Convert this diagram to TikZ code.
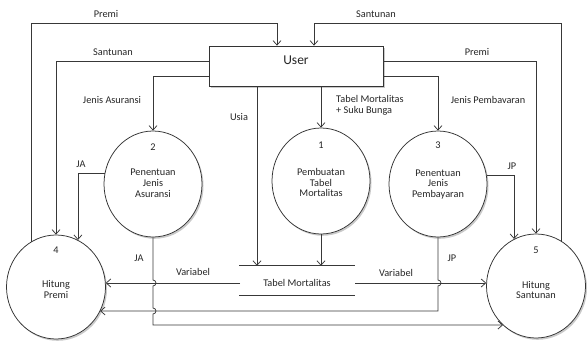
\documentclass[tikz,border=0pt]{standalone}
\usepackage{fontspec}
\setmainfont{Carlito}
\usetikzlibrary{arrows.meta,shapes.geometric,shadows}
\begin{document}
\begin{tikzpicture}[x=1pt,y=-1pt,
  line/.style={draw=black!78, line width=0.75pt},
  arr/.style={line, -{Straight Barb[length=4.5pt,width=8pt,line width=0.75pt]}},
  shd/.style={drop shadow={shadow xshift=1.5pt,shadow yshift=-1.8pt,opacity=0.35,fill=black!60}},
  proc/.style={ellipse, draw=black!80, line width=0.75pt, fill=white, minimum width=98pt, minimum height=106pt, inner sep=0pt, shd},
  procb/.style={proc, minimum width=99pt, minimum height=104pt},
  lbl/.style={font=\fontsize{10.3}{10.8}\selectfont, text=black!85, inner sep=0pt, align=center},
  ]
\useasboundingbox (0,0) rectangle (588,340);

% external entity
\node[draw=black!80, line width=0.75pt, fill=white, minimum width=174pt, minimum height=40pt, inner sep=0pt, shd] (user) at (296,66) {};
\node[font=\fontsize{13.5}{14}\selectfont, text=black!85, inner sep=0pt] (usertxt) at (296,60) {User};

% processes
\node[proc] (c1) at (321,181) {};
\node[proc] (c2) at (153,184) {};
\node[proc] (c3) at (438,184) {};
\node[procb] (c4) at (56,287) {};
\node[procb] (c5) at (536,286) {};

\node[lbl] (n1) at (321,145) {1};
\node[lbl] (t1) at (321,182.5) {Pembuatan\\Tabel\\Mortalitas};
\node[lbl] (n2) at (153,147) {2};
\node[lbl] (t2) at (153,183.5) {Penentuan\\Jenis\\Asuransi};
\node[lbl] (n3) at (438,145) {3};
\node[lbl] (t3) at (438,184.5) {Penentuan\\Jenis\\Pembayaran};
\node[lbl] (n4) at (56,250) {4};
\node[lbl] (t4) at (56,289.5) {Hitung\\Premi};
\node[lbl] (n5) at (536,250) {5};
\node[lbl] (t5) at (536,290) {Hitung\\Santunan};

% data store
\node[lbl, minimum width=115pt, minimum height=29pt] (ds) at (297,280.5) {};
\node[lbl] (dstxt) at (297,283) {Tabel Mortalitas};
\draw[line] (ds.north west) -- (ds.north east);
\draw[line] (ds.south west) -- (ds.south east);

% helper coordinates
\coordinate (k1) at (277,23);
\coordinate (k2) at (314,23);
\coordinate (xusia) at (257,0);
\coordinate (vl) at (240,283);
\coordinate (vr) at (355,283);

% flows from/to user
\draw[arr] (c4.119) |- (k1) -- (k1 |- user.north);
\draw[arr] ([yshift=5pt]user.west) -| (c4.north);
\draw[arr] ([yshift=-10pt]user.west) -| (c2.north);
\draw[arr] (xusia |- user.south) -- (xusia |- ds.north);
\draw[arr] (user.south -| c1.north) -- (c1.north);
\draw[arr] (c5.61) |- (k2) -- (k2 |- user.north);
\draw[arr] ([yshift=5pt]user.east) -| (c5.north);
\draw[arr] ([yshift=-10pt]user.east) -| (c3.north);

% internal flows
\draw[arr] (c2.168) -| (c4.65);
\draw[arr] (c3.10) -| (c5.115);
\draw[arr] (c1.south) -- (c1.south |- ds.north);
\draw[arr] (vl) -- (vl -| c4.5);
\draw[arr] (vr) -- (vr -| c5.176);
\draw[arr] (c2.south) -- (c2.south |- 0,280) arc[start angle=90,end angle=-90,radius=3pt]
  -- (c2.south |- 0,308) arc[start angle=90,end angle=-90,radius=3pt]
  -- (c2.south |- 0,325) -- (c5.230 |- 0,325);
\draw[arr] (c3.south) -- (c3.south |- 0,280) arc[start angle=90,end angle=-90,radius=3pt]
  -- (c3.south |- 0,311) -- (c4.331 |- 0,311);

% labels
\node[lbl] (l1) at (106,14) {Premi};
\node[lbl] (l2) at (113,52) {Santunan};
\node[lbl] (l3) at (112,100) {Jenis Asuransi};
\node[lbl] (l4) at (239,117) {Usia};
\node[lbl] (l5) at (376,14) {Santunan};
\node[lbl] (l6) at (477,52) {Premi};
\node[lbl, align=left, anchor=west] (l7) at (336,105) {Tabel Mortalitas\\+ Suku Bunga};
\node[lbl] (l8) at (488,100) {Jenis Pembavaran};
\node[lbl] (l9) at (81,164) {JA};
\node[lbl] (l10) at (512,166) {JP};
\node[lbl] (l11) at (139,258) {JA};
\node[lbl] (l12) at (452,258) {JP};
\node[lbl] (l13) at (193,272) {Variabel};
\node[lbl] (l14) at (396,273) {Variabel};
\end{tikzpicture}
\end{document}
